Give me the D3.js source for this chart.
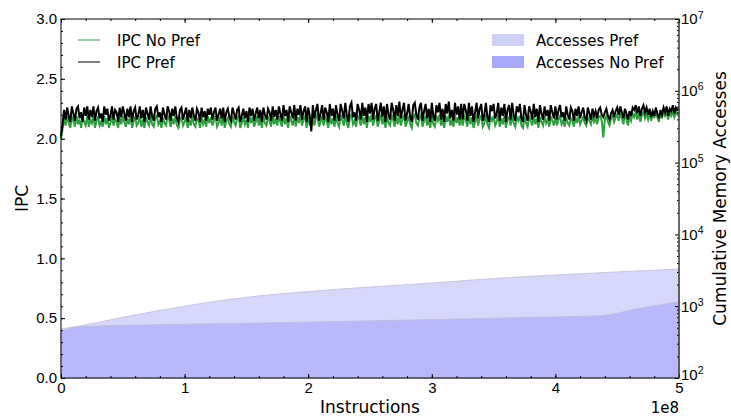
<!DOCTYPE html>
<head>
    <meta charset="utf-8">
    <script src="https://d3js.org/d3.v7.min.js"></script>
    <style type="text/css">
        body { margin: 0; background: #fff; }
        svg { display: block; font-family: "DejaVu Sans", sans-serif; }
        .tick text { font-size: 15px; fill: #000; }
        .domain { display: none; }
    </style>
</head>
<body>
    <div id="chart"></div>
</body>

<script type="text/javascript">
    // IPC samples, one every 1.25e6 instructions (20 per row = 0.25e8)
    var sampleStep = 1.25e6;

    var ipcPref = [
        2.02, 2.12, 2.24, 2.16, 2.26, 2.19, 2.14, 2.27, 2.21, 2.15, 2.25, 2.27, 2.17, 2.22, 2.14, 2.26, 2.19, 2.27, 2.16, 2.24,
        2.18, 2.27, 2.15, 2.23, 2.26, 2.17, 2.21, 2.14, 2.27, 2.20, 2.25, 2.15, 2.19, 2.27, 2.16, 2.24, 2.22, 2.14, 2.26, 2.18,
        2.27, 2.21, 2.15, 2.25, 2.18, 2.27, 2.14, 2.23, 2.26, 2.16, 2.20, 2.27, 2.17, 2.24, 2.14, 2.26, 2.21, 2.16, 2.27, 2.19,
        2.15, 2.25, 2.27, 2.18, 2.22, 2.14, 2.26, 2.20, 2.16, 2.27, 2.23, 2.15, 2.25, 2.19, 2.27, 2.17, 2.14, 2.24, 2.26, 2.16,
        2.21, 2.26, 2.14, 2.24, 2.17, 2.26, 2.19, 2.15, 2.25, 2.22, 2.14, 2.26, 2.18, 2.23, 2.15, 2.25, 2.20, 2.26, 2.16, 2.22,
        2.26, 2.15, 2.20, 2.25, 2.17, 2.26, 2.14, 2.22, 2.25, 2.18, 2.15, 2.26, 2.21, 2.16, 2.24, 2.26, 2.14, 2.19, 2.25, 2.17,
        2.23, 2.14, 2.26, 2.19, 2.25, 2.15, 2.21, 2.26, 2.17, 2.24, 2.14, 2.26, 2.20, 2.16, 2.25, 2.22, 2.15, 2.27, 2.18, 2.24,
        2.16, 2.27, 2.21, 2.15, 2.28, 2.19, 2.24, 2.14, 2.27, 2.22, 2.17, 2.28, 2.15, 2.25, 2.20, 2.28, 2.16, 2.23, 2.27, 2.14,
        2.26, 2.19, 2.06, 2.28, 2.17, 2.24, 2.29, 2.15, 2.21, 2.28, 2.16, 2.26, 2.22, 2.14, 2.29, 2.19, 2.25, 2.15, 2.28, 2.20,
        2.15, 2.29, 2.23, 2.17, 2.30, 2.20, 2.14, 2.27, 2.30, 2.18, 2.22, 2.15, 2.29, 2.24, 2.16, 2.30, 2.19, 2.26, 2.14, 2.29,
        2.21, 2.30, 2.16, 2.25, 2.29, 2.15, 2.22, 2.30, 2.18, 2.27, 2.14, 2.29, 2.20, 2.16, 2.30, 2.24, 2.15, 2.28, 2.19, 2.31,
        2.17, 2.24, 2.30, 2.15, 2.21, 2.29, 2.18, 2.14, 2.28, 2.30, 2.20, 2.16, 2.26, 2.30, 2.15, 2.23, 2.29, 2.17, 2.25, 2.14,
        2.30, 2.19, 2.15, 2.28, 2.22, 2.30, 2.16, 2.25, 2.14, 2.29, 2.21, 2.31, 2.17, 2.24, 2.15, 2.30, 2.20, 2.27, 2.16, 2.29,
        2.16, 2.29, 2.24, 2.15, 2.30, 2.19, 2.27, 2.14, 2.22, 2.30, 2.17, 2.25, 2.29, 2.15, 2.20, 2.30, 2.18, 2.14, 2.28, 2.23,
        2.29, 2.17, 2.21, 2.30, 2.15, 2.26, 2.19, 2.29, 2.14, 2.24, 2.28, 2.16, 2.30, 2.20, 2.15, 2.27, 2.22, 2.29, 2.17, 2.14,
        2.28, 2.20, 2.15, 2.27, 2.23, 2.16, 2.29, 2.18, 2.25, 2.14, 2.28, 2.21, 2.16, 2.27, 2.19, 2.24, 2.15, 2.28, 2.22, 2.17,
        2.27, 2.16, 2.24, 2.28, 2.18, 2.22, 2.15, 2.27, 2.20, 2.16, 2.26, 2.23, 2.15, 2.25, 2.19, 2.27, 2.17, 2.22, 2.26, 2.18,
        2.15, 2.26, 2.21, 2.16, 2.25, 2.19, 2.23, 2.17, 2.24, 2.26, 2.20, 2.18, 2.22, 2.25, 2.19, 2.16, 2.21, 2.24, 2.18, 2.23,
        2.26, 2.20, 2.27, 2.22, 2.17, 2.25, 2.21, 2.16, 2.23, 2.19, 2.26, 2.24, 2.28, 2.21, 2.27, 2.19, 2.25, 2.28, 2.22, 2.26,
        2.20, 2.25, 2.18, 2.23, 2.19, 2.26, 2.21, 2.17, 2.24, 2.20, 2.26, 2.22, 2.27, 2.19, 2.25, 2.23, 2.28, 2.21, 2.26, 2.24,
        2.25
    ];

    var ipcNoPref = [
        2.00, 2.08, 2.17, 2.11, 2.19, 2.13, 2.09, 2.18, 2.15, 2.10, 2.19, 2.12, 2.16, 2.09, 2.18, 2.14, 2.11, 2.19, 2.10, 2.16,
        2.13, 2.19, 2.09, 2.15, 2.18, 2.11, 2.14, 2.10, 2.19, 2.12, 2.17, 2.09, 2.13, 2.19, 2.11, 2.16, 2.14, 2.09, 2.18, 2.12,
        2.19, 2.14, 2.10, 2.17, 2.12, 2.19, 2.09, 2.15, 2.18, 2.11, 2.13, 2.19, 2.10, 2.16, 2.09, 2.18, 2.14, 2.11, 2.19, 2.12,
        2.10, 2.17, 2.19, 2.12, 2.15, 2.09, 2.18, 2.13, 2.11, 2.19, 2.16, 2.10, 2.17, 2.12, 2.19, 2.11, 2.09, 2.16, 2.18, 2.11,
        2.14, 2.18, 2.09, 2.16, 2.11, 2.19, 2.12, 2.10, 2.17, 2.15, 2.09, 2.18, 2.12, 2.16, 2.10, 2.19, 2.13, 2.18, 2.11, 2.15,
        2.19, 2.10, 2.13, 2.18, 2.11, 2.19, 2.09, 2.15, 2.17, 2.12, 2.10, 2.19, 2.14, 2.11, 2.17, 2.19, 2.09, 2.13, 2.18, 2.12,
        2.16, 2.09, 2.19, 2.13, 2.18, 2.10, 2.14, 2.19, 2.11, 2.17, 2.09, 2.19, 2.13, 2.11, 2.18, 2.15, 2.10, 2.19, 2.12, 2.17,
        2.11, 2.19, 2.14, 2.10, 2.20, 2.12, 2.17, 2.09, 2.19, 2.15, 2.11, 2.20, 2.10, 2.18, 2.13, 2.20, 2.11, 2.16, 2.19, 2.09,
        2.18, 2.12, 2.10, 2.20, 2.11, 2.17, 2.20, 2.10, 2.14, 2.19, 2.11, 2.18, 2.15, 2.09, 2.20, 2.12, 2.17, 2.10, 2.19, 2.13,
        2.10, 2.20, 2.16, 2.11, 2.20, 2.13, 2.09, 2.18, 2.20, 2.12, 2.15, 2.10, 2.19, 2.17, 2.11, 2.20, 2.12, 2.18, 2.09, 2.19,
        2.14, 2.20, 2.11, 2.17, 2.19, 2.10, 2.15, 2.20, 2.12, 2.18, 2.09, 2.19, 2.13, 2.11, 2.20, 2.16, 2.10, 2.19, 2.12, 2.20,
        2.11, 2.16, 2.20, 2.10, 2.14, 2.19, 2.12, 2.09, 2.18, 2.20, 2.13, 2.11, 2.17, 2.20, 2.10, 2.15, 2.19, 2.11, 2.17, 2.09,
        2.20, 2.12, 2.10, 2.19, 2.15, 2.20, 2.11, 2.17, 2.09, 2.19, 2.14, 2.20, 2.11, 2.16, 2.10, 2.20, 2.13, 2.18, 2.11, 2.19,
        2.11, 2.19, 2.16, 2.10, 2.20, 2.12, 2.18, 2.09, 2.14, 2.20, 2.11, 2.17, 2.19, 2.10, 2.13, 2.20, 2.12, 2.09, 2.18, 2.15,
        2.19, 2.11, 2.14, 2.20, 2.10, 2.17, 2.12, 2.19, 2.09, 2.16, 2.18, 2.11, 2.20, 2.13, 2.10, 2.18, 2.15, 2.19, 2.11, 2.09,
        2.18, 2.13, 2.10, 2.19, 2.15, 2.11, 2.19, 2.12, 2.17, 2.09, 2.18, 2.14, 2.11, 2.19, 2.13, 2.16, 2.10, 2.18, 2.15, 2.11,
        2.18, 2.11, 2.16, 2.19, 2.12, 2.15, 2.10, 2.18, 2.13, 2.11, 2.17, 2.15, 2.10, 2.18, 2.13, 2.19, 2.12, 2.15, 2.18, 2.13,
        2.11, 2.18, 2.15, 2.12, 2.19, 2.14, 2.17, 2.12, 2.18, 2.19, 2.15, 2.01, 2.16, 2.19, 2.14, 2.11, 2.17, 2.19, 2.14, 2.18,
        2.20, 2.15, 2.21, 2.17, 2.12, 2.20, 2.16, 2.11, 2.19, 2.15, 2.21, 2.18, 2.22, 2.16, 2.21, 2.14, 2.20, 2.22, 2.17, 2.21,
        2.16, 2.21, 2.15, 2.22, 2.17, 2.23, 2.18, 2.14, 2.22, 2.17, 2.23, 2.19, 2.22, 2.16, 2.23, 2.19, 2.22, 2.18, 2.23, 2.20,
        2.22
    ];

    // cumulative memory accesses (instructions in 1e8)
    var accPrefX   = [0, 0.15, 0.5, 1.0, 1.5, 2.0, 2.5, 3.0, 3.5, 4.0, 4.5, 5.0];
    var accPref    = [480, 530, 700, 1000, 1330, 1600, 1850, 2100, 2430, 2720, 3000, 3300];
    var accNoPrefX = [0, 0.05, 0.15, 0.5, 1.0, 1.5, 2.0, 2.5, 3.0, 3.5, 4.0, 4.36, 4.7, 5.0];
    var accNoPref  = [430, 480, 515, 540, 560, 580, 600, 625, 650, 680, 710, 735, 950, 1150];

    var xTicks = [0, 1e8, 2e8, 3e8, 4e8, 5e8];
    var ipcTicks = [0, 0.5, 1.0, 1.5, 2.0, 2.5, 3.0];
    var accTicks = [1e2, 1e3, 1e4, 1e5, 1e6, 1e7];

    var width = 731, height = 419;
    var margin = {top: 19, right: 52, bottom: 41, left: 61};
    var w = width - margin.left - margin.right,
        h = height - margin.top - margin.bottom;

    var svg = d3.select("#chart").append("svg")
        .attr("width", width)
        .attr("height", height);

    var g = svg.append("g")
        .attr("transform", "translate(" + margin.left + "," + margin.top + ")");

    var x = d3.scaleLinear().domain([0, 5e8]).range([0, w]);
    var y = d3.scaleLinear().domain([0, 3]).range([h, 0]);
    var y2 = d3.scaleLog().domain([1e2, 1e7]).range([h, 0]);

    // areas
    var area = d3.area()
        .x(function(d) { return x(d[0] * 1e8); })
        .y0(h)
        .y1(function(d) { return y2(d[1]); })
        .curve(d3.curveMonotoneX);

    g.append("path")
        .datum(accPrefX.map(function(v, i) { return [v, accPref[i]]; }))
        .attr("d", area)
        .attr("fill", "#d7d7fa")
        .attr("stroke", "#c8c8de")
        .attr("stroke-width", 1);

    g.append("path")
        .datum(accNoPrefX.map(function(v, i) { return [v, accNoPref[i]]; }))
        .attr("d", area)
        .attr("fill", "#b8b8fa")
        .attr("stroke", "#c0c0de")
        .attr("stroke-width", 1);

    // IPC lines
    var line = d3.line()
        .x(function(d, i) { return x(i * sampleStep); })
        .y(function(d) { return y(d); });

    g.append("path")
        .datum(ipcNoPref)
        .attr("d", line)
        .attr("fill", "none")
        .attr("stroke", "#2e9e3e")
        .attr("stroke-width", 2);

    g.append("path")
        .datum(ipcPref)
        .attr("d", line)
        .attr("fill", "none")
        .attr("stroke", "#000")
        .attr("stroke-width", 2);

    // ticks (inside, classic style)
    var minorX = d3.range(0, 5e8 + 1, 2e7);
    var minorY = d3.range(0, 3.01, 0.1);
    var minorY2 = y2.ticks().filter(function(v) { return accTicks.indexOf(v) < 0; });

    g.append("g").attr("transform", "translate(0," + h + ")")
        .call(d3.axisBottom(x).tickValues(minorX).tickSize(-2).tickFormat(""));
    g.append("g")
        .call(d3.axisTop(x).tickValues(minorX).tickSize(-2).tickFormat(""));
    g.append("g").attr("transform", "translate(0," + h + ")")
        .call(d3.axisBottom(x).tickValues(xTicks).tickSize(-4).tickPadding(4)
            .tickFormat(function(d) { return d / 1e8; }));
    g.append("g")
        .call(d3.axisTop(x).tickValues(xTicks).tickSize(-4).tickFormat(""));

    g.append("g")
        .call(d3.axisLeft(y).tickValues(minorY).tickSize(-2).tickFormat(""));
    g.append("g")
        .call(d3.axisLeft(y).tickValues(ipcTicks).tickSize(-4).tickPadding(4)
            .tickFormat(d3.format(".1f")));

    var right = g.append("g").attr("transform", "translate(" + w + ",0)");
    right.append("g")
        .call(d3.axisRight(y2).tickValues(minorY2).tickSize(-2).tickFormat(""));
    var rightMajor = right.append("g")
        .call(d3.axisRight(y2).tickValues(accTicks).tickSize(-4).tickFormat(""));

    rightMajor.selectAll(".tick").append("text")
        .attr("x", 2)
        .attr("dy", function(d) { return d === 1e2 ? "0.1em" : "0.32em"; })
        .attr("text-anchor", "start")
        .each(function(d) {
            var t = d3.select(this);
            t.append("tspan").text("10");
            t.append("tspan")
                .attr("dy", "-0.55em")
                .style("font-size", "10.5px")
                .text(Math.round(Math.log10(d)));
        });

    g.selectAll(".tick line").attr("stroke", "#000");

    // spines
    g.append("rect")
        .attr("width", w)
        .attr("height", h)
        .attr("fill", "none")
        .attr("stroke", "#000")
        .attr("stroke-width", 1);
    g.append("line")
        .attr("x1", w).attr("x2", w).attr("y1", 0).attr("y2", h)
        .attr("stroke", "#555");

    // labels
    svg.append("text")
        .attr("x", margin.left + w / 2)
        .attr("y", 413)
        .attr("text-anchor", "middle")
        .style("font-size", "17px")
        .text("Instructions");

    svg.append("text")
        .attr("x", margin.left + w)
        .attr("y", 413)
        .attr("text-anchor", "end")
        .style("font-size", "15px")
        .text("1e8");

    svg.append("text")
        .attr("transform", "translate(28," + (margin.top + h / 2) + ") rotate(-90)")
        .attr("text-anchor", "middle")
        .style("font-size", "17px")
        .text("IPC");

    svg.append("text")
        .attr("transform", "translate(726," + (margin.top + h / 2) + ") rotate(-90)")
        .attr("text-anchor", "middle")
        .style("font-size", "17px")
        .text("Cumulative Memory Accesses");

    // legends
    var legL = svg.append("g");
    [["IPC No Pref", "#2e9e3e"], ["IPC Pref", "#000"]].forEach(function(e, i) {
        legL.append("line")
            .attr("x1", 78).attr("x2", 100)
            .attr("y1", 40 + i * 22).attr("y2", 40 + i * 22)
            .attr("stroke", e[1]).attr("stroke-width", 1);
        legL.append("text")
            .attr("x", 117).attr("y", 46 + i * 22)
            .style("font-size", "15px")
            .text(e[0]);
    });

    var legR = svg.append("g");
    [["Accesses Pref", "#cfcffb"], ["Accesses No Pref", "#a9a9fb"]].forEach(function(e, i) {
        legR.append("rect")
            .attr("x", 492).attr("y", 34 + i * 22)
            .attr("width", 32).attr("height", 12)
            .attr("fill", e[1]);
        legR.append("text")
            .attr("x", 536).attr("y", 46 + i * 22)
            .style("font-size", "15px")
            .text(e[0]);
    });
</script>
